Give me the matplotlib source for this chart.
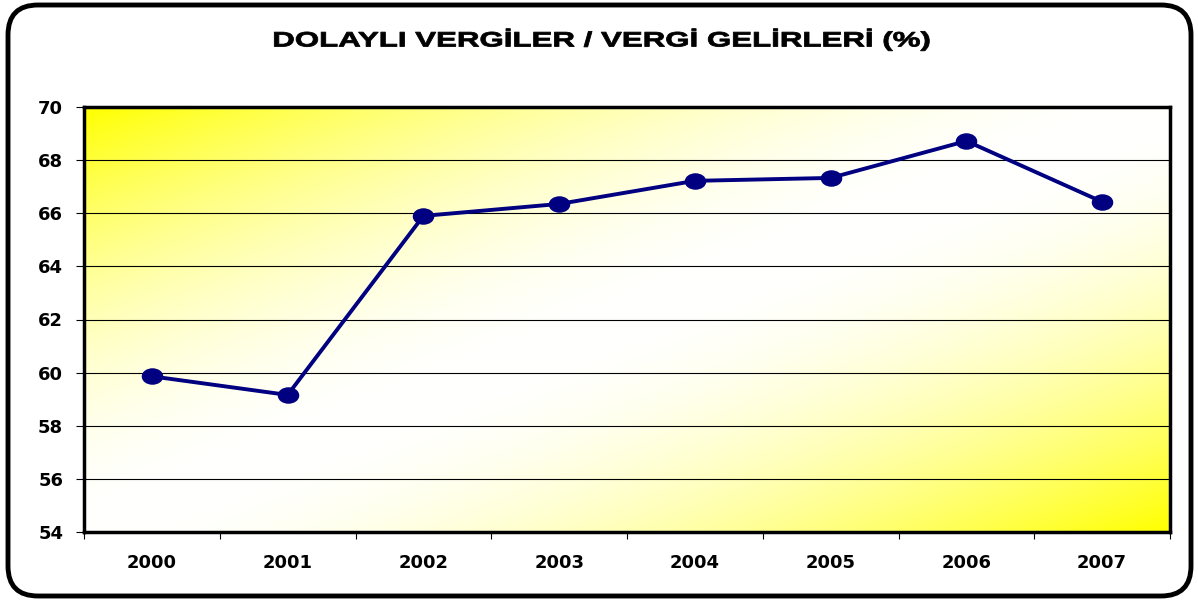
import numpy as np
import matplotlib
matplotlib.use('Agg')
import matplotlib.pyplot as plt
from matplotlib.patches import FancyBboxPatch
from matplotlib.path import Path
from matplotlib.patheffects import AbstractPathEffect
from matplotlib.transforms import Affine2D

years = ['2000', '2001', '2002', '2003', '2004', '2005', '2006', '2007']
share = [59.86, 59.16, 65.9, 66.35, 67.22, 67.33, 68.72, 66.43]

title = 'DOLAYLI VERGİLER / VERGİ GELİRLERİ (%)'

plt.rcParams['font.family'] = ['DejaVu Sans']
plt.rcParams['font.weight'] = 'bold'

W, H = 1198, 601


class HStretch(AbstractPathEffect):
    '''widen the glyphs around x = cx (display pixels), the original text is stretched'''
    def __init__(self, sx, cx):
        super().__init__()
        self.sx, self.cx = sx, cx

    def draw_path(self, renderer, gc, tpath, affine, rgbFace=None):
        aff = affine + Affine2D().translate(-self.cx, 0).scale(self.sx, 1).translate(self.cx, 0)
        gc0 = renderer.new_gc()
        gc0.copy_properties(gc)
        gc0.set_linewidth(0.6)
        gc0.set_foreground('black')
        renderer.draw_path(gc0, tpath, aff, rgbFace)


fig = plt.figure(figsize=(W / 100, H / 100), dpi=100)

# rounded outer border
border = FancyBboxPatch((8 / W, 5 / H), 1183 / W, 591 / H,
                        boxstyle='round,pad=0,rounding_size=0.025',
                        transform=fig.transFigure, facecolor='white',
                        edgecolor='black', linewidth=3.5, mutation_aspect=W / H,
                        zorder=-5)
fig.patches.append(border)

ax = fig.add_axes([84 / W, 1 - 532 / H, (1170 - 84) / W, (532 - 107) / H])

# diagonal gradient: yellow in top-left and bottom-right corners, fading fast towards the middle
gx, gy = np.meshgrid(np.linspace(0, 1, 400), np.linspace(1, 0, 200))
t = np.abs(gx - gy) ** 1.8
rgb = np.ones((200, 400, 3))
rgb[..., 2] = 1 - t
ax.imshow(rgb, extent=[-0.5, len(years) - 0.5, 54, 70], aspect='auto', zorder=0)

# wide (elliptical) dot marker
circ = Path.unit_circle()
oval = Path(circ.vertices * np.array([1.0, 0.75]), circ.codes)

x = np.arange(len(years))
ax.plot(x, share, color='#000080', linewidth=2.8, marker=oval, markersize=14.5,
        markerfacecolor='#000080', markeredgecolor='#000080', zorder=3)

ax.set_xlim(-0.5, len(years) - 0.5)
ax.set_ylim(54, 70)
ax.set_yticks(np.arange(54, 71, 2))
ax.yaxis.grid(True, color='black', linewidth=0.8)
for gl in ax.get_ygridlines():
    gl.set_zorder(1)

ax.set_xticks(np.arange(-0.5, len(years), 1))
ax.set_xticklabels([])
ax.set_xticks(x, minor=True)
ax.set_xticklabels(years, minor=True)
ax.tick_params(axis='x', which='minor', length=0, pad=16, labelsize=13)
ax.tick_params(axis='x', which='major', length=5, direction='out', width=0.8)
ax.tick_params(axis='y', length=6, width=0.8, labelsize=13, pad=9)
for lab in ax.get_xticklabels(minor=True) + ax.get_yticklabels():
    lab.set_fontweight('bold')

for side in ['left', 'top', 'right', 'bottom']:
    ax.spines[side].set_linewidth(2.5)

cx = 0.502 * W
fig.text(cx / W, 1 - 40 / H, title, ha='center', va='center',
         fontsize=15, fontweight='bold', family=['Liberation Sans', 'DejaVu Sans'],
         path_effects=[HStretch(1.5, cx)])

fig.savefig('out.png', dpi=100)
